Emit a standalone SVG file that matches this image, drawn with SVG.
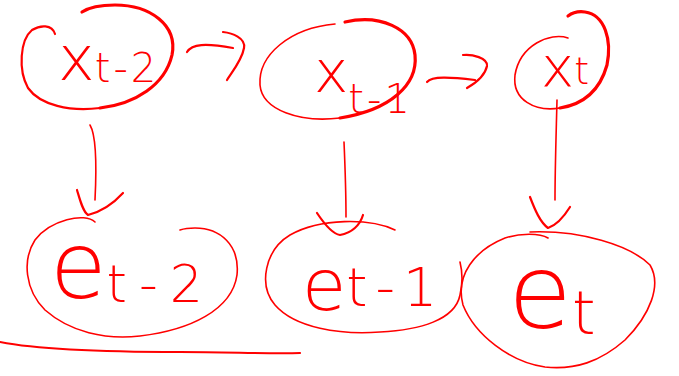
<svg xmlns="http://www.w3.org/2000/svg" width="679" height="376" viewBox="0 0 679 376">
<style>
.ink{fill:none;stroke:#ff0000;stroke-linecap:round;stroke-linejoin:round}
.thin{stroke-width:1.6}
.mid{stroke-width:2.2}
.thick{stroke-width:3.2}
.lbl{fill:#ff0000;font-family:"DejaVu Sans","Liberation Sans",sans-serif;font-weight:300}
</style>
<rect width="679" height="376" fill="#ffffff"/>
<g id="x_t-2">
<path class="ink mid" d="M55,34 C52,24 40,25 32,30 C20,40 18,70 28,88 C40,105 70,112 100,108"/>
<path class="ink thick" d="M100,108 C135,104 165,85 172,55 C178,25 150,5 115,5 C100,5 88,8 82,12"/>
<text class="lbl" x="58" y="80" font-size="62">x<tspan font-size="40" dy="2" letter-spacing="3">t-2</tspan></text>
</g>
<g id="x_t-1">
<path class="ink thin" d="M340,118 C300,123 262,110 260,85 C258,55 290,28 335,24"/>
<path class="ink thick" d="M345,22 C380,14 412,28 415,55 C418,85 390,110 340,118"/>
<text class="lbl" x="314" y="92" font-size="58">x<tspan font-size="40" dy="21" letter-spacing="3">t-1</tspan></text>
</g>
<g id="x_t">
<path class="ink thin" d="M568,38 C550,32 520,45 515,75 C512,100 535,112 560,108"/>
<path class="ink thick" d="M560,108 C585,104 600,90 607,65 C612,40 605,15 585,12 C578,11 572,13 568,16"/>
<text class="lbl" x="541" y="86" font-size="56">x<tspan font-size="38" dy="-2">t</tspan></text>
</g>
<g id="e_t-2">
<path class="ink thin" d="M95,222 C85,212 50,220 35,240 C22,260 25,290 45,310 C70,332 105,340 140,336 C190,330 232,310 237,275 C240,245 220,228 195,228 C188,228 183,229 180,230"/>
<text class="lbl" x="50" y="298" font-size="92">e<tspan font-size="52" dy="4" letter-spacing="12">t-2</tspan></text>
</g>
<g id="e_t-1">
<path class="ink thin" d="M395,230 C370,218 320,218 290,235 C265,250 258,285 275,305 C295,328 340,335 380,332 C420,330 455,320 460,295 C463,282 462,270 460,262"/>
<text class="lbl" x="302" y="310" font-size="72">e<tspan font-size="54" dy="-4" letter-spacing="8">t-1</tspan></text>
</g>
<g id="e_t">
<path class="ink thin" d="M530,232 C580,230 630,245 650,265 C662,285 650,315 625,340 C600,362 575,370 545,367 C510,362 475,335 463,305 C455,275 475,250 505,238 C520,233 540,233 548,238"/>
<text class="lbl" x="508" y="328" font-size="104">e<tspan font-size="60" dy="6">t</tspan></text>
</g>
<g id="connectors">
<path class="ink mid" d="M187,52 C192,44 205,43 233,48"/>
<path class="ink mid" d="M223,32 C232,33 246,38 244,48 C242,60 232,72 227,80"/>
<path class="ink mid" d="M427,82 C432,76 450,77 475,80"/>
<path class="ink mid" d="M463,55 C472,54 488,58 487,66 C485,76 474,84 467,88"/>
<path class="ink thin" d="M90,125 C96,135 97,160 95,200"/>
<path class="ink mid" d="M77,190 C80,200 83,212 88,215 C100,212 112,205 123,193"/>
<path class="ink thin" d="M344,142 C345,165 346,190 346,217"/>
<path class="ink mid" d="M317,213 C325,225 333,234 340,235 C352,233 360,225 363,215"/>
<path class="ink thin" d="M557,100 C556,140 555,170 555,200"/>
<path class="ink mid" d="M530,197 C535,210 540,222 548,228 C557,225 565,215 570,207"/>
</g>
<path class="ink mid" d="M0,342 C40,350 100,352 180,352 C230,352 270,354 300,353"/>
</svg>
